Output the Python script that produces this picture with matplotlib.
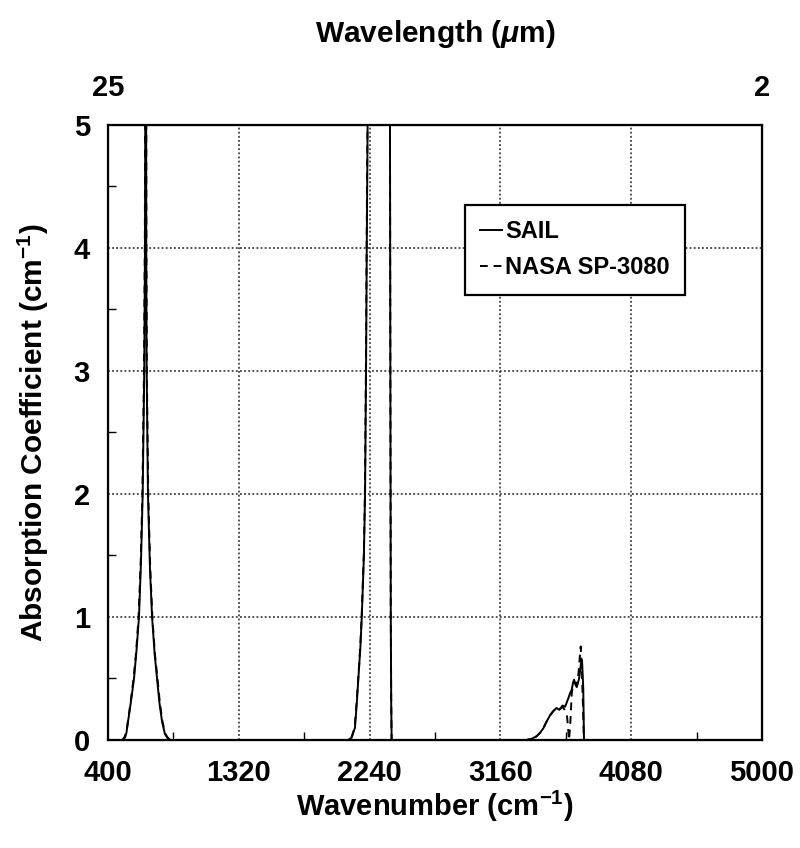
import matplotlib
matplotlib.use("Agg")
import matplotlib.pyplot as plt
from matplotlib.ticker import MultipleLocator, FixedLocator

plt.rcParams['font.family'] = ['Liberation Sans', 'DejaVu Sans']
plt.rcParams['mathtext.fontset'] = 'custom'
plt.rcParams['mathtext.rm'] = 'Liberation Sans:bold'
plt.rcParams['mathtext.bf'] = 'Liberation Sans:bold'
plt.rcParams['mathtext.it'] = 'Liberation Sans:italic:bold'

# ---- data ----
sail_wn = [400, 505, 520, 530, 541, 560, 583, 600, 618, 632, 644, 655, 660, 664, 667,
           669, 672, 681, 695, 710, 728, 745, 762, 780, 800, 822, 840,
           2090, 2114, 2137, 2150, 2161, 2175, 2185, 2200, 2208, 2215, 2220, 2226, 2232,
           2300, 2370, 2383, 2386, 2389, 2392, 2395,
           3330, 3345, 3380, 3415, 3440, 3462, 3485, 3509, 3532, 3555, 3574, 3597, 3615,
           3625, 3638, 3650, 3662, 3670, 3678, 3688, 3697, 3707, 3715, 3722, 3727, 3734,
           3740, 3743, 3746, 3748, 3760, 5000]
sail_k = [0, 0, 0.02, 0.06, 0.15, 0.3, 0.5, 0.72, 1.0, 1.45, 2.0, 3.0, 4.0, 6.0, 8.0,
          4.0, 3.0, 2.0, 1.4, 1.0, 0.7, 0.5, 0.3, 0.15, 0.05, 0.01, 0,
          0, 0.02, 0.1, 0.3, 0.5, 0.75, 1.0, 1.5, 2.0, 3.0, 4.0, 5.0, 7.0,
          30, 30, 5.2, 3.0, 1.0, 0.3, 0,
          0, 0, 0.01, 0.03, 0.06, 0.095, 0.15, 0.2, 0.235, 0.26, 0.245, 0.28, 0.27,
          0.3, 0.34, 0.38, 0.41, 0.46, 0.49, 0.45, 0.43, 0.47, 0.51, 0.58, 0.62, 0.65,
          0.5, 0.41, 0.15, 0, 0, 0]

nasa_wn = [400, 500, 515, 528, 540, 558, 580, 598, 615, 630, 642, 653, 659, 663, 667,
           670, 673, 683, 697, 712, 730, 748, 765, 783, 803, 825, 845,
           2090, 2112, 2135, 2148, 2160, 2174, 2184, 2199, 2207, 2214, 2219, 2225, 2232,
           2300, 2370, 2383, 2386, 2389, 2392, 2395,
           3330, 3345, 3380, 3415, 3440, 3462, 3485, 3509, 3532, 3555, 3574, 3597, 3615,
           3628, 3636, 3642, 3650, 3662, 3672, 3682, 3697, 3710, 3720, 3725, 3732, 3740,
           3746, 3750, 3760, 5000]
nasa_k = [0, 0, 0.02, 0.06, 0.15, 0.3, 0.5, 0.72, 1.0, 1.45, 2.0, 3.0, 4.0, 6.0, 8.0,
          4.0, 3.0, 2.0, 1.4, 1.0, 0.7, 0.5, 0.3, 0.15, 0.05, 0.01, 0,
          0, 0.02, 0.1, 0.3, 0.5, 0.75, 1.0, 1.5, 2.0, 3.0, 4.0, 5.0, 7.0,
          30, 30, 5.2, 3.0, 1.0, 0.3, 0,
          0, 0, 0.01, 0.03, 0.06, 0.095, 0.15, 0.2, 0.235, 0.26, 0.245, 0.27, 0.24,
          0.2, 0.1, 0.0, 0.1, 0.38, 0.46, 0.47, 0.45, 0.55, 0.7, 0.76, 0.6, 0.3,
          0.05, 0, 0, 0]

x_ticks = [400, 1320, 2240, 3160, 4080, 5000]
y_ticks = [0, 1, 2, 3, 4, 5]
top_ticks = [400, 5000]
top_labels = ['25', '2']

fig = plt.figure(figsize=(8, 8.48), dpi=100)
ax = fig.add_axes([0.135, 0.1274, 0.8175, 0.7252])

ax.plot(sail_wn, sail_k, color='black', lw=1.4, label='SAIL')
ax.plot(nasa_wn, nasa_k, color='black', lw=1.4, ls=(0, (4, 3)), label='NASA SP-3080')

ax.set_xlim(400, 5000)
ax.set_ylim(0, 5)
ax.set_xticks(x_ticks)
ax.set_yticks(y_ticks)
ax.xaxis.set_minor_locator(FixedLocator([860, 1780, 2700, 3620, 4540]))
ax.yaxis.set_minor_locator(MultipleLocator(0.5))
ax.tick_params(axis='both', which='major', direction='in', length=0, labelsize=21, pad=14)
ax.tick_params(axis='both', which='minor', direction='in', length=6, width=1)
ax.tick_params(axis='y', which='major', pad=13)
for lab in ax.get_xticklabels() + ax.get_yticklabels():
    lab.set_fontweight('bold')
ax.grid(True, which='major', color='#222222', ls=(0, (1.2, 1.5)), lw=1.1)
for s in ax.spines.values():
    s.set_linewidth(1.6)

ax.set_xlabel(r'Wavenumber (cm$^{\mathregular{-1}}$)', fontsize=21, fontweight='bold', labelpad=1)
ax.set_ylabel(r'Absorption Coefficient (cm$^{\mathregular{-1}}$)', fontsize=21.5, fontweight='bold', labelpad=16)

ax2 = ax.twiny()
ax2.set_xlim(400, 5000)
ax2.set_xticks(top_ticks)
ax2.set_xticklabels(top_labels, fontweight='bold')
ax2.tick_params(axis='x', length=0, labelsize=21, pad=16.5)
ax2.set_xlabel(r'Wavelength ($\mathit{\mu}$m)', fontsize=21.5, fontweight='bold', labelpad=23)

leg = ax.legend(loc='upper left', bbox_to_anchor=(0.546, 0.87),
                prop={'size': 17, 'weight': 'bold'},
                frameon=True, fancybox=False, framealpha=1, edgecolor='black',
                handlelength=0.9, handletextpad=0.15, borderpad=0.65, labelspacing=0.55,
                borderaxespad=0)
leg.get_frame().set_linewidth(1.6)

fig.savefig('out.png', dpi=100)
